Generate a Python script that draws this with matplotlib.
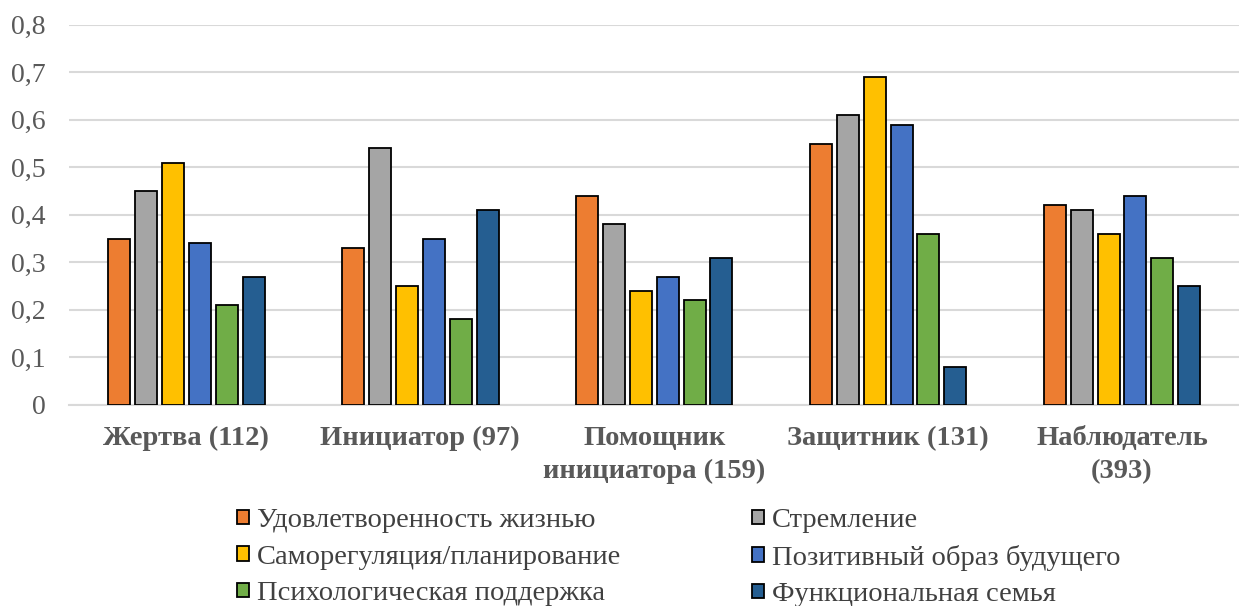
import matplotlib
matplotlib.use("Agg")
import matplotlib.pyplot as plt
import numpy as np
from matplotlib.ticker import FuncFormatter, MultipleLocator

categories = ["Жертва (112)", "Инициатор (97)", "Помощник\nинициатора (159)",
              "Защитник (131)", "Наблюдатель\n(393)"]
series_names = ["Удовлетворенность жизнью", "Стремление", "Саморегуляция/планирование",
                "Позитивный образ будущего", "Психологическая поддержка", "Функциональная семья"]
satisfaction = [0.35, 0.33, 0.44, 0.55, 0.42]
striving = [0.45, 0.54, 0.38, 0.61, 0.41]
selfreg = [0.51, 0.25, 0.24, 0.69, 0.36]
future = [0.34, 0.35, 0.27, 0.59, 0.44]
support = [0.21, 0.18, 0.22, 0.36, 0.31]
family = [0.27, 0.41, 0.31, 0.08, 0.25]
values = [satisfaction, striving, selfreg, future, support, family]
colors = ["#ED7D31", "#A5A5A5", "#FFC000", "#4472C4", "#70AD47", "#255E91"]

plt.rcParams['font.family'] = ['Liberation Serif', 'DejaVu Serif']
fig = plt.figure(figsize=(12.39, 6.06), dpi=100)
ax = fig.add_axes([0.056, 0.332, 0.944, 0.627])

x = np.arange(len(categories))
step = 0.115
width = 0.094
handles = []
for i, (vals, name, c) in enumerate(zip(values, series_names, colors)):
    h = ax.bar(x + (i - 2.5) * step, vals, width, color=c, edgecolor="black",
               linewidth=1.3, label=name, zorder=3)
    handles.append(h)

ax.set_xlim(-0.5, len(categories) - 0.5)
ax.set_ylim(0, 0.8)
ax.yaxis.set_major_locator(MultipleLocator(0.1))
ax.yaxis.set_major_formatter(FuncFormatter(lambda v, p: "0" if abs(v) < 1e-9 else f"{v:.1f}".replace(".", ",")))
ax.grid(axis="y", color="#D9D9D9", linewidth=1.5, zorder=0)
for s in ["top", "right", "left"]:
    ax.spines[s].set_visible(False)
ax.spines["bottom"].set_color("#D9D9D9")
ax.spines["bottom"].set_linewidth(1.5)
ax.tick_params(axis="both", length=0, colors="#595959", labelsize=20)
ax.tick_params(axis="y", pad=17)
ax.tick_params(axis="x", pad=15.5)
ax.set_xticks(x)
ax.set_xticklabels(categories, fontweight="bold", color="#595959", fontsize=20.5, linespacing=1.4)

order = [0, 2, 4, 1, 3, 5]
leg = fig.legend([handles[i] for i in order], [series_names[i] for i in order],
                 loc="upper left", bbox_to_anchor=(0.18, 0.185), ncol=2, frameon=False,
                 fontsize=20.5, handlelength=0.4, handleheight=0.4, handletextpad=0.3,
                 columnspacing=4.6, labelspacing=0.4, borderpad=0)
for t in leg.get_texts():
    t.set_color("#404040")

fig.savefig("out.png", dpi=100)
